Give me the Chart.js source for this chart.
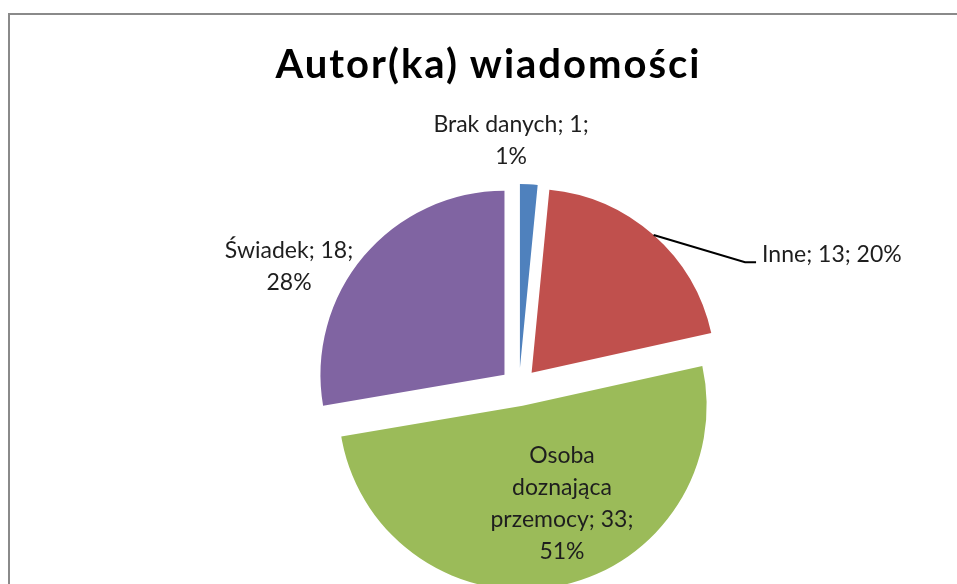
<!DOCTYPE html>
<html>
<head>
<meta charset="utf-8">
<script src="https://cdn.jsdelivr.net/npm/chart.js@4.4.1/dist/chart.umd.min.js"></script>
<style>
  html, body { margin: 0; padding: 0; background: #fff; overflow: hidden; }
  #frame {
    position: absolute; left: 8px; top: 13px; width: 1000px; height: 700px;
    border: 2px solid #8a8a8a; box-sizing: border-box;
  }
  #title {
    position: absolute; left: 0; width: 977px; top: 39px; text-align: center;
    font: bold 40px Lato, sans-serif; line-height: 1.2; color: #000;
    letter-spacing: 2px;
  }
  #chart { position: absolute; left: 0; top: 0; }
</style>
</head>
<body>
<div id="frame"></div>
<canvas id="chart" width="957" height="800"></canvas>
<div id="title">Autor(ka) wiadomości</div>
<script>
const categories = ['Brak danych', 'Inne', 'Osoba doznająca przemocy', 'Świadek'];
const counts = [1, 13, 33, 18];
const percents = [1, 20, 51, 28];
const sliceColors = ['#4F81BD', '#C0504D', '#9BBB59', '#8064A2'];

// label placement, relative to each slice (degrees / fraction of radius)
const labelAngleShift = [-5, 21.2, -10.9, -13.3];
const labelRadius = [1.243, 1.409, 0.571, 1.3125];
const labelAlign = ['center', 'left', 'center', 'center'];
const wrapWidth = [175, 400, 165, 150];
const labelFont = 23;
const lineHeight = 32;
const explodeOffset = 19;

function wrapText(ctx, text, maxWidth) {
  const words = text.split(' ');
  const lines = [];
  let line = '';
  words.forEach(w => {
    const test = line ? line + ' ' + w : w;
    if (line && ctx.measureText(test).width > maxWidth) {
      lines.push(line);
      line = w;
    } else {
      line = test;
    }
  });
  if (line) lines.push(line);
  return lines;
}

const explodePlugin = {
  id: 'explode',
  afterDatasetsUpdate(chart) {
    chart.getDatasetMeta(0).data.forEach(arc => {
      const mid = (arc.startAngle + arc.endAngle) / 2;
      arc.x += Math.cos(mid) * explodeOffset;
      arc.y += Math.sin(mid) * explodeOffset;
    });
  }
};

const labelPlugin = {
  id: 'pieLabels',
  afterDatasetsDraw(chart) {
    const ctx = chart.ctx;
    ctx.save();
    ctx.font = labelFont + 'px Lato, sans-serif';
    ctx.fillStyle = '#1e1e1e';
    ctx.textBaseline = 'alphabetic';
    const capH = labelFont * 0.72;
    chart.getDatasetMeta(0).data.forEach((arc, i) => {
      const mid = (arc.startAngle + arc.endAngle) / 2;
      const ang = mid + labelAngleShift[i] * Math.PI / 180;
      const r = arc.outerRadius * labelRadius[i];
      const ax = arc.x + Math.cos(ang) * r;
      const ay = arc.y + Math.sin(ang) * r;
      const text = categories[i] + '; ' + counts[i] + '; ' + percents[i] + '%';
      const lines = wrapText(ctx, text, wrapWidth[i]);
      ctx.textAlign = labelAlign[i];
      lines.forEach((ln, k) => {
        const y = ay + (k - (lines.length - 1) / 2) * lineHeight + capH / 2;
        ctx.fillText(ln, ax, y);
      });
      if (labelAlign[i] === 'left') {
        const ex = arc.x + Math.cos(mid) * arc.outerRadius;
        const ey = arc.y + Math.sin(mid) * arc.outerRadius;
        const by = ay + capH / 2;
        ctx.beginPath();
        ctx.moveTo(ex, ey);
        ctx.lineTo(ax - 17, by);
        ctx.lineTo(ax - 6, by);
        ctx.strokeStyle = '#000';
        ctx.lineWidth = 2;
        ctx.stroke();
      }
    });
    ctx.restore();
  }
};

new Chart(document.getElementById('chart'), {
  type: 'pie',
  data: {
    labels: categories,
    datasets: [
      {
        data: counts,
        backgroundColor: sliceColors,
        borderWidth: 0,
        radius: 184,
      },
    ],
  },
  options: {
    responsive: false,
    animation: false,
    layout: { padding: { left: 81, right: 0, top: 0, bottom: 26 } },
    plugins: {
      legend: { display: false },
      tooltip: { enabled: false },
      title: { display: false },
    },
  },
  plugins: [explodePlugin, labelPlugin],
});
</script>
</body>
</html>
